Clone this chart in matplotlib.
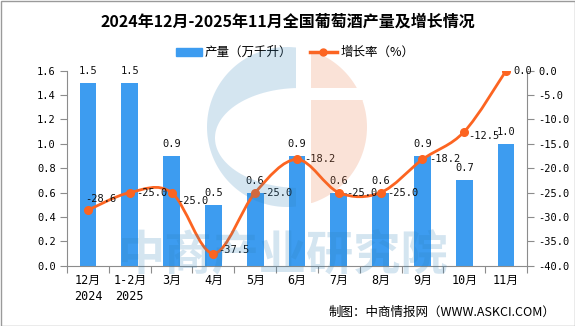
import numpy as np
import matplotlib
matplotlib.use("Agg")
import matplotlib.pyplot as plt
from matplotlib.path import Path
from matplotlib.patches import PathPatch, Polygon, Rectangle
from matplotlib.ticker import FormatStrFormatter, FixedLocator, NullFormatter

plt.rcParams['font.family'] = ['DejaVu Sans Mono', 'Noto Sans CJK SC']

months = ['12月\n2024', '1-2月\n2025', '3月', '4月', '5月', '6月', '7月', '8月', '9月', '10月', '11月']
output = [1.5, 1.5, 0.9, 0.5, 0.6, 0.9, 0.6, 0.6, 0.9, 0.7, 1.0]
growth = [-28.6, -25.0, -25.0, -37.5, -25.0, -18.2, -25.0, -25.0, -18.2, -12.5, 0.0]

# label offsets for the growth line (pixels)
growth_offsets = [(-3, 11), (6, 0), (6, -8), (5, 4), (6, 0), (7, 0),
                  (7, 0), (7, 0), (7, 0), (4, -4), (7, 0)]

bar_color = '#3d9cf0'
line_color = '#fc6421'
axis_color = '#8c8c8c'

W, H = 575, 326
fig = plt.figure(figsize=(W / 100, H / 100), dpi=100)
ax = fig.add_axes([67 / W, 60.3 / H, 460 / W, 195 / H])
ax.patch.set_alpha(0)
x = np.arange(len(months))

ax.bar(x, output, width=0.4, color=bar_color, zorder=2)
ax.set_xlim(-0.5, len(months) - 0.5)
ax.set_ylim(0, 1.6)
ax.yaxis.set_major_locator(FixedLocator(np.arange(0, 1.61, 0.2)))
ax.yaxis.set_major_formatter(FormatStrFormatter('%.1f'))
ax.xaxis.set_major_locator(FixedLocator(np.arange(-0.5, len(months), 1)))
ax.xaxis.set_major_formatter(NullFormatter())
ax.set_xticks(x, minor=True)
ax.set_xticklabels(months, minor=True, fontsize=8.5, linespacing=1.25)
ax.tick_params(axis='x', which='major', length=5, color=axis_color, direction='out')
ax.tick_params(axis='x', which='minor', length=0, pad=6)
ax.tick_params(axis='y', length=5, color=axis_color, labelsize=7.5, pad=3)
for s in ['top', 'right']:
    ax.spines[s].set_visible(False)
for s in ['left', 'bottom']:
    ax.spines[s].set_color(axis_color)

for xi, v in zip(x, output):
    ax.annotate('%.1f' % v, (xi, v), xytext=(0, 12), textcoords='offset pixels',
                ha='center', va='center', fontsize=7.5, color='#111111', zorder=6)

ax2 = ax.twinx()
ax2.set_ylim(-40, 0)
ax2.yaxis.set_major_locator(FixedLocator(np.arange(-40, 0.1, 5)))
ax2.yaxis.set_major_formatter(FormatStrFormatter('%.1f'))
ax2.tick_params(axis='y', length=5, color=axis_color, labelsize=7.5, pad=3)
for s in ['top', 'left', 'bottom']:
    ax2.spines[s].set_visible(False)
ax2.spines['right'].set_color(axis_color)

# smooth line through the points (cubic bezier, catmull-rom style)
pts = np.column_stack([x, growth])
verts = [tuple(pts[0])]
codes = [Path.MOVETO]
for i in range(len(pts) - 1):
    p0 = pts[max(i - 1, 0)]
    p1 = pts[i]
    p2 = pts[i + 1]
    p3 = pts[min(i + 2, len(pts) - 1)]
    c1 = p1 + (p2 - p0) / 6
    c2 = p2 - (p3 - p1) / 6
    verts += [tuple(c1), tuple(c2), tuple(p2)]
    codes += [Path.CURVE4] * 3
ax2.add_patch(PathPatch(Path(verts, codes), fill=False, edgecolor=line_color,
                        lw=2.0, zorder=3, capstyle='round'))
ax2.plot(x, growth, 'o', color=line_color, ms=5.5, zorder=4)
for xi, v, off in zip(x, growth, growth_offsets):
    ax2.annotate('%.1f' % v, (xi, v), xytext=off, textcoords='offset pixels',
                 ha='left', va='center', fontsize=7.5, color='#111111', zorder=6)

# title, legend, source
fig.text(0.5, 1 - 22 / H, '2024年12月-2025年11月全国葡萄酒产量及增长情况',
         ha='center', va='center', fontsize=11.5, fontweight='bold',
         family=['Noto Sans CJK SC'])
fig.patches.append(Rectangle((176 / W, 1 - 56 / H), 26 / W, 8 / H, transform=fig.transFigure,
                             color=bar_color, figure=fig))
fig.text(205 / W, 1 - 52 / H, '产量（万千升）', va='center', fontsize=9,
         family=['Noto Sans CJK SC'])
fig.lines.append(plt.Line2D([310 / W, 337 / W], [1 - 52 / H, 1 - 52 / H], color=line_color,
                            lw=2.5, transform=fig.transFigure))
fig.lines.append(plt.Line2D([323.5 / W], [1 - 52 / H], color=line_color, marker='o', ms=5,
                            transform=fig.transFigure))
fig.text(341 / W, 1 - 52 / H, '增长率（%）', va='center', fontsize=9,
         family=['Noto Sans CJK SC'])
fig.text(555 / W, 1 - 312 / H, '制图：中商情报网（WWW.ASKCI.COM）', ha='right', va='center',
         fontsize=9, family=['Noto Sans CJK SC'])
fig.patches.append(Rectangle((0.5 / W, 0.5 / H), 1 - 1 / W, 1 - 1 / H, transform=fig.transFigure,
                             fill=False, edgecolor='#9a9a9a', lw=1, figure=fig))

# watermark logo + text (pixel coords, y down)
wm = fig.add_axes([0, 0, 1, 1], zorder=5)
wm.set_xlim(0, W)
wm.set_ylim(H, 0)
wm.axis('off')
cx, cy, r = 287, 127, 80
xr = 296
a0 = np.arccos((xr - cx) / r)
a = np.linspace(-a0, -2 * np.pi + a0, 120)
outer = np.column_stack([cx + r * np.cos(a), cy + r * np.sin(a)])
ex, ey, ea, eb = 300, 138, 85, 50
b0 = np.arccos((xr - ex) / ea)
b = np.linspace(b0, 2 * np.pi - b0, 120)
inner = np.column_stack([ex + ea * np.cos(b), ey + eb * np.sin(b)])
wm.add_patch(Polygon(np.vstack([outer, inner]), closed=True, color='#2a7fb8', alpha=0.2, lw=0))
u = np.linspace(-np.pi / 2, np.pi / 2, 120)
orange = np.column_stack([cx + r * np.cos(u), cy + r * np.sin(u)])
orange = orange[orange[:, 0] >= 311]
upper = orange[orange[:, 1] <= 88]
lower = orange[orange[:, 1] >= 100]
wm.add_patch(Polygon(np.vstack([upper, [[upper[-1, 0], 88], [311, 88], [311, upper[0, 1]]]]),
                     closed=True, color='#e8703a', alpha=0.2, lw=0))
wm.add_patch(Polygon(np.vstack([[[lower[0, 0], 100]], lower, [[311, lower[-1, 1]], [311, 100]]]),
                     closed=True, color='#e8703a', alpha=0.2, lw=0))
wm.text(118, 255, '中商产业研究院', ha='left', va='center', fontsize=34, fontweight='bold',
        color='#2a7fb8', alpha=0.2, family=['Noto Sans CJK SC'])

fig.savefig('out.png', dpi=100)
